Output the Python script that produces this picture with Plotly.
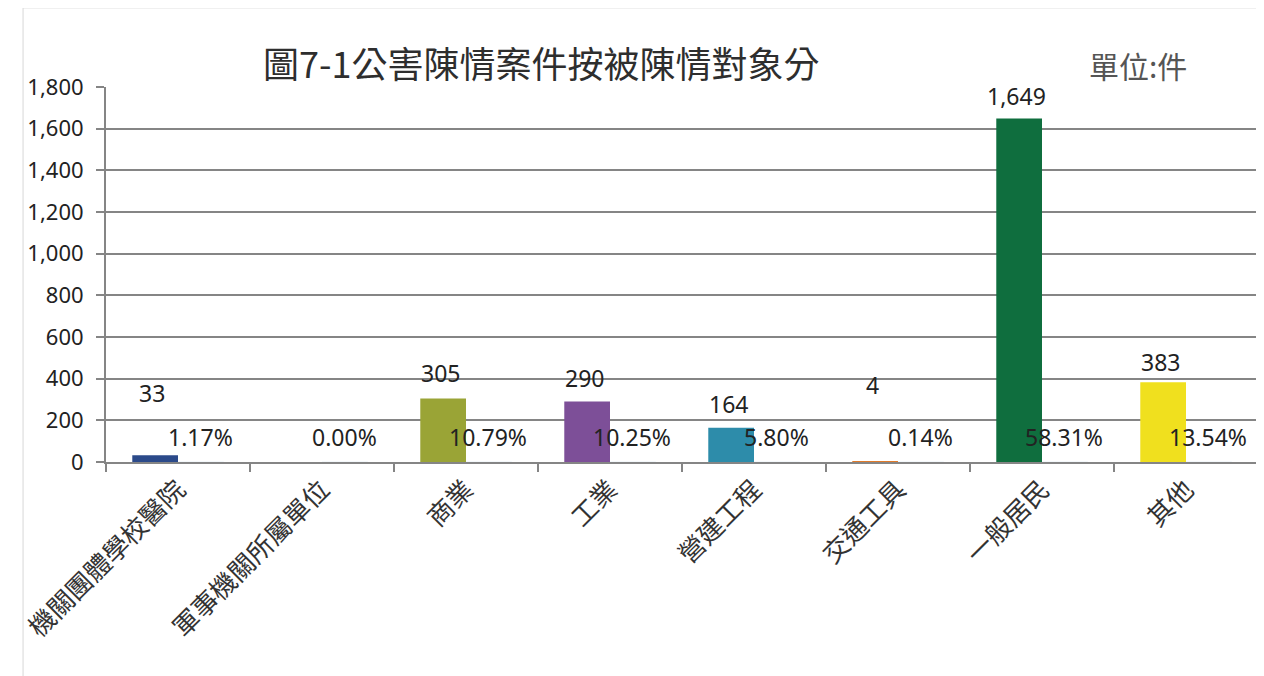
import plotly.graph_objects as go

# data
categories = ["機關團體學校醫院", "軍事機關所屬單位", "商業", "工業",
              "營建工程", "交通工具", "一般居民", "其他"]
counts = [33, 0, 305, 290, 164, 4, 1649, 383]
shares = [1.17, 0.00, 10.79, 10.25, 5.80, 0.14, 58.31, 13.54]
y_ticks = [0, 200, 400, 600, 800, 1000, 1200, 1400, 1600, 1800]

# styling
bar_colors = ["#2b4a8a", "#7a7a7a", "#9aa436", "#7d4f98",
              "#2d8caa", "#e07a2a", "#0f6e3e", "#f0e01e"]
count_label_shift = [62, 0, 25, 24, 24, 76, 22, 20]   # px above bar top (hand-placed in source)
GRID = "#858585"
NUM_FONT = "Noto Sans, Open Sans, sans-serif"
CJK_FONT = "Noto Sans CJK TC, Noto Sans CJK SC, sans-serif"

fig = go.Figure()
fig.add_trace(go.Bar(x=categories, y=counts, marker_color=bar_colors,
                     marker_line_width=0, name="件數", hoverinfo="x+y"))
# second series (share) has ~zero height; only its labels show
fig.add_trace(go.Bar(x=categories, y=[0] * len(categories),
                     marker_color="rgba(0,0,0,0)", name="百分比",
                     hoverinfo="skip"))

annotations = []
for cat, n, sh in zip(categories, counts, count_label_shift):
    if n == 0:
        continue
    annotations.append(dict(x=cat, y=n, xref="x", yref="y", text=f"{n:,}",
                            showarrow=False, xshift=-26, yshift=sh,
                            font=dict(family=NUM_FONT, size=23, color="#222")))
for cat, p in zip(categories, shares):
    annotations.append(dict(x=cat, y=0, xref="x", yref="y", text=f"{p:.2f}%",
                            showarrow=False, xshift=22, yshift=25,
                            font=dict(family=NUM_FONT, size=23, color="#222")))

annotations.append(dict(x=0.378, y=1.067, xref="paper", yref="paper",
                        xanchor="center", yanchor="middle",
                        text="圖7-1公害陳情案件按被陳情對象分",
                        showarrow=False,
                        font=dict(family=CJK_FONT, size=36, color="#2e2e2e")))
annotations.append(dict(x=0.896, y=1.059, xref="paper", yref="paper",
                        xanchor="center", yanchor="middle",
                        text="單位:件", showarrow=False,
                        font=dict(family=CJK_FONT, size=30, color="#555")))

# page body has an 8px margin, so margins are offset to land the plot area
fig.update_layout(
    width=1264, height=676,
    margin=dict(l=88, r=14, t=79, b=222),
    paper_bgcolor="white", plot_bgcolor="white",
    barmode="group", bargap=0.365, bargroupgap=0,
    showlegend=False,
    annotations=annotations,
    shapes=[dict(type="rect", xref="paper", yref="paper",
                 x0=-0.072, x1=1.0, y0=-0.6, y1=1.211,
                 line=dict(color="#d8d8d8", width=1))],
)
fig.update_yaxes(range=[0, 1800], tickvals=y_ticks, tickformat=",",
                 showgrid=True, gridcolor=GRID, gridwidth=2,
                 showline=True, linecolor=GRID, linewidth=2,
                 ticks="outside", ticklen=8, tickcolor=GRID, tickwidth=2,
                 ticklabelstandoff=8, zeroline=False,
                 tickfont=dict(family=NUM_FONT, size=22, color="#222"))
fig.update_xaxes(showline=True, linecolor=GRID, linewidth=2,
                 ticks="outside", tickson="boundaries", ticklen=8,
                 tickcolor=GRID, tickwidth=2, tickangle=-45,
                 tickfont=dict(family=CJK_FONT, size=26, color="#333"))

fig.write_html("out.html")
